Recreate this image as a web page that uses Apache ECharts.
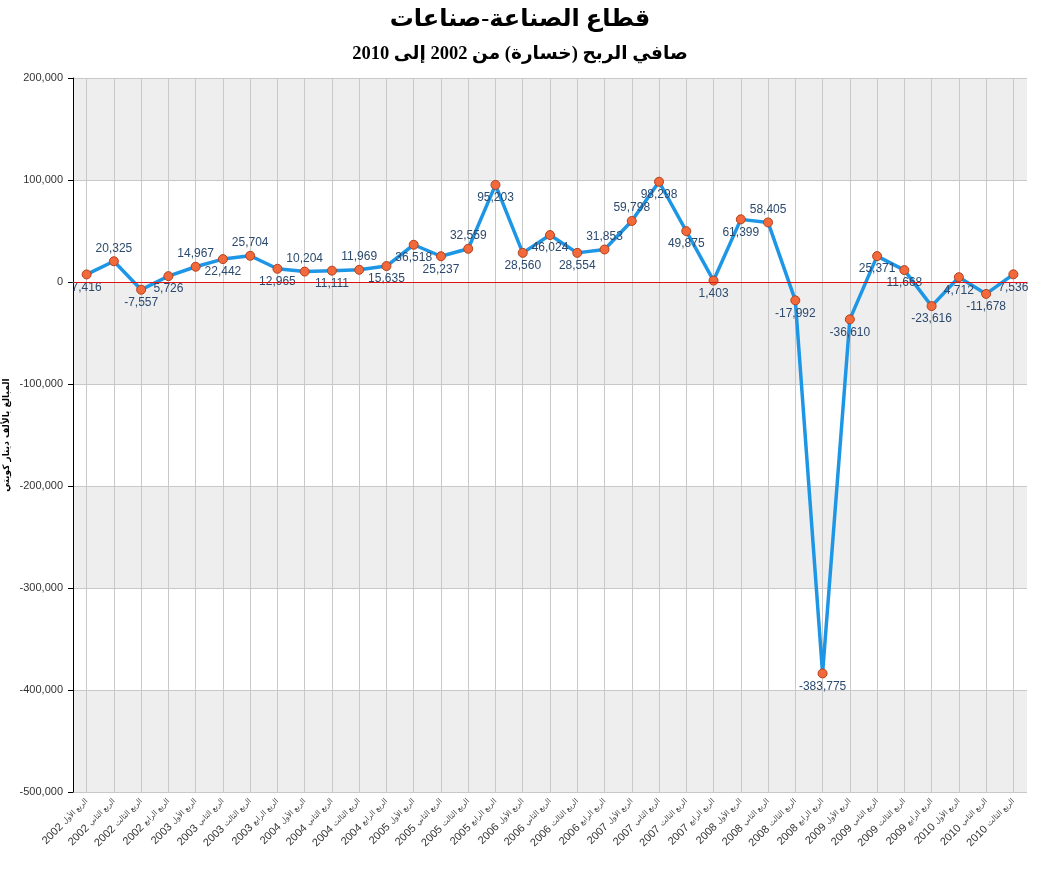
<!DOCTYPE html>
<html>
<head>
<meta charset="utf-8">
<script src="https://cdn.jsdelivr.net/npm/echarts@6/dist/echarts.min.js"></script>
<style>html,body{margin:0;padding:0;background:#fff;}#c{width:1040px;height:873px;}</style>
</head>
<body>
<div id="c"></div>
<script>
const years = ['2002','2002','2002','2002','2003','2003','2003','2003','2004','2004','2004','2004','2005','2005','2005','2005','2006','2006','2006','2006','2007','2007','2007','2007','2008','2008','2008','2008','2009','2009','2009','2009','2010','2010','2010'];
const quarterNames = ['الربع الأول','الربع الثاني','الربع الثالث','الربع الرابع'];
const categories = years.map((y, i) => y + ' ' + quarterNames[i % 4]);
const netProfit = [7416, 20325, -7557, 5726, 14967, 22442, 25704, 12965, 10204, 11111, 11969, 15635, 36518, 25237, 32559, 95203, 28560, 46024, 28554, 31853, 59798, 98298, 49875, 1403, 61399, 58405, -17992, -383775, -36610, 25371, 11668, -23616, 4712, -11678, 7536];
const labelSide = ['bottom','top','bottom','bottom','top','bottom','top','bottom','top','bottom','top','bottom','bottom','bottom','top','bottom','bottom','bottom','bottom','top','top','bottom','bottom','bottom','bottom','top','bottom','bottom','bottom','bottom','bottom','bottom','bottom','bottom','bottom'];
const titleText = 'قطاع الصناعة-صناعات';
const subtitleText = 'صافي الربح (خسارة) من 2002 إلى 2010';
const yAxisName = 'المبالغ بالألف دينار كويتي';

const chart = echarts.init(document.getElementById('c'));
chart.setOption({
  animation: false,
  backgroundColor: '#ffffff',
  title: [
    { text: titleText, left: 'center', top: 3, textStyle: { fontFamily: "'Liberation Serif','DejaVu Sans',serif", fontSize: 24, fontWeight: 'bold', color: '#000' } },
    { text: subtitleText, left: 'center', top: 40, textStyle: { fontFamily: "'Liberation Serif','DejaVu Sans',serif", fontSize: 18.5, fontWeight: 'bold', color: '#000' } }
  ],
  grid: { left: 73, right: 13, top: 78, bottom: 81, containLabel: false, outerBoundsMode: 'none' },
  xAxis: {
    type: 'category',
    data: categories,
    boundaryGap: true,
    axisLine: { lineStyle: { color: '#000', width: 1 } },
    axisTick: { alignWithLabel: true, length: 5, lineStyle: { color: '#000' } },
    splitLine: { show: true, alignWithLabel: true, lineStyle: { color: '#c8c8c8', width: 1 } },
    axisLabel: {
      rotate: 45, interval: 0, margin: 8,
      formatter: v => { const s = v.indexOf(' '); return '{y|' + v.slice(0, s) + '} {q|' + v.slice(s + 1) + '}'; },
      rich: {
        y: { fontSize: 11, color: '#333', fontFamily: "'Liberation Sans', Arial, sans-serif" },
        q: { fontSize: 7.5, color: '#444', fontFamily: "'DejaVu Sans', sans-serif" }
      }
    }
  },
  yAxis: {
    type: 'value',
    min: -500000, max: 200000, interval: 100000,
    name: yAxisName,
    nameLocation: 'middle',
    nameGap: 62,
    nameMoveOverlap: false,
    nameRotate: 90,
    nameTextStyle: { fontSize: 9, color: '#000', fontWeight: 'bold', fontFamily: "'DejaVu Sans', sans-serif" },
    axisLine: { show: true, lineStyle: { color: '#000', width: 1 } },
    axisTick: { show: true, length: 5, lineStyle: { color: '#000' } },
    axisLabel: { fontSize: 11, color: '#333', fontFamily: "'Liberation Sans', Arial, sans-serif", margin: 10,
      formatter: v => v.toLocaleString('en-US') },
    splitLine: { show: true, lineStyle: { color: '#c8c8c8', width: 1 } },
    splitArea: { show: true, areaStyle: { color: ['#eeeeee', '#ffffff'] } }
  },
  series: [{
    type: 'line',
    data: netProfit.map((v, i) => ({ value: v, label: { position: labelSide[i] } })),
    lineStyle: { color: '#1e96e6', width: 3.5 },
    itemStyle: { color: '#f26a3c', borderColor: '#b5401c', borderWidth: 1 },
    symbol: 'circle',
    symbolSize: 9,
    label: {
      show: true,
      distance: 2,
      fontSize: 12,
      color: '#2c4a6e',
      fontFamily: "'Liberation Sans', Arial, sans-serif",
      formatter: p => p.value.toLocaleString('en-US')
    },
    markLine: {
      silent: true,
      symbol: 'none',
      label: { show: false },
      lineStyle: { color: '#dd1111', width: 1, type: 'solid' },
      data: [{ yAxis: 0 }]
    },
    z: 3
  }]
});
</script>
</body>
</html>
